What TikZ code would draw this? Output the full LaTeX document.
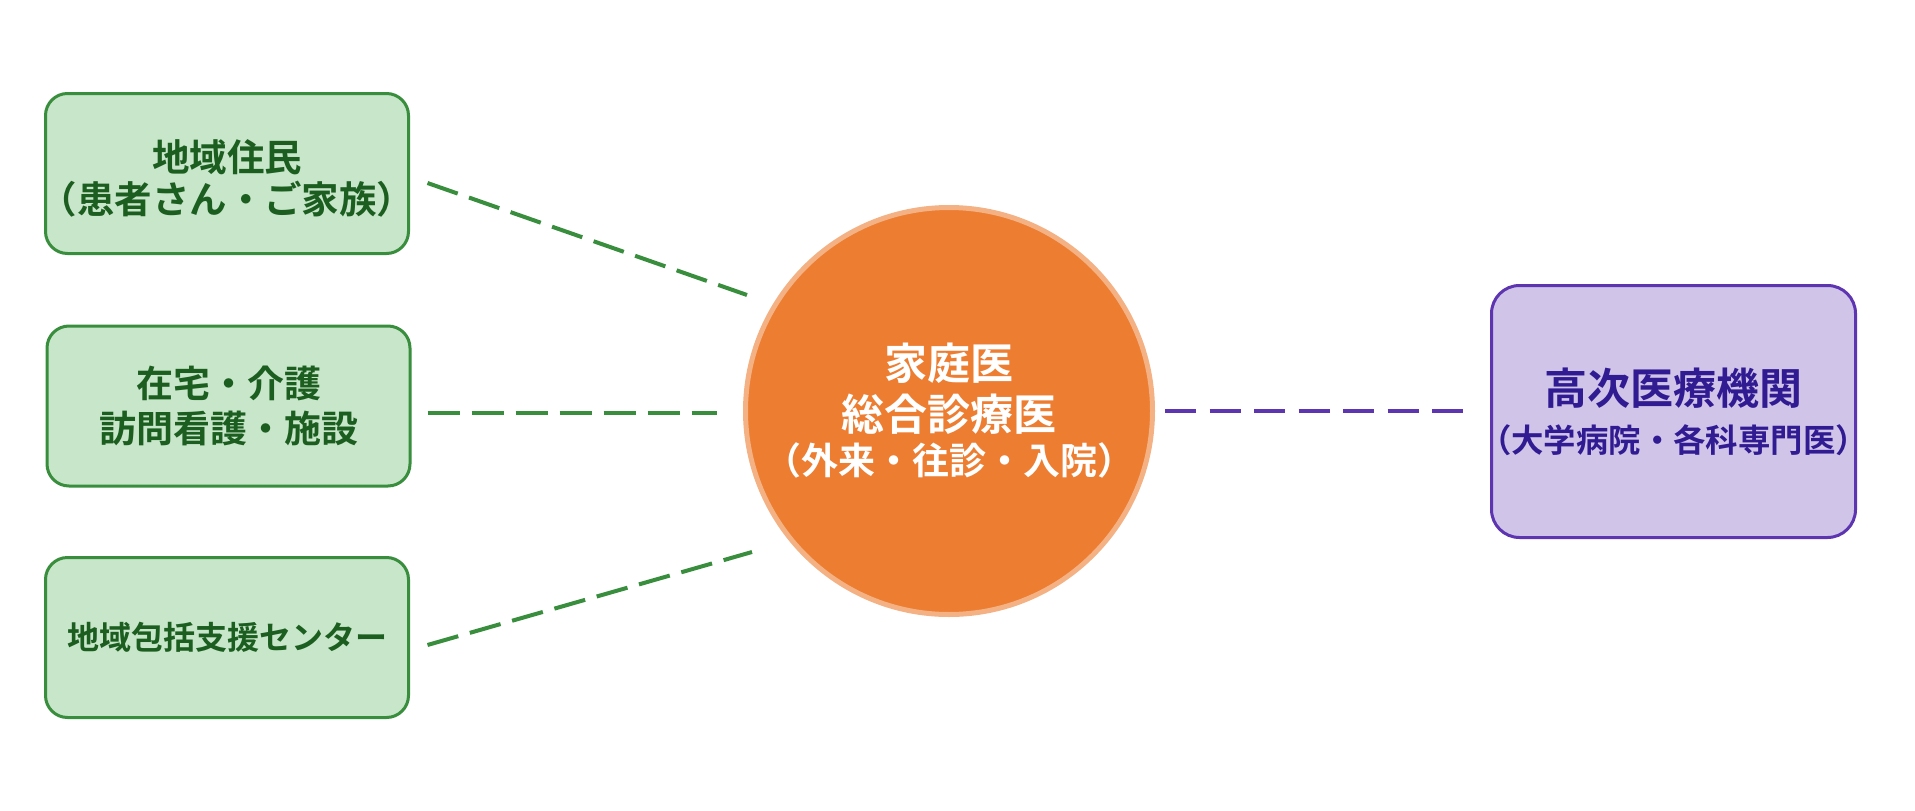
\documentclass[tikz,border=0pt]{standalone}
\usepackage{fontspec}
\setmainfont{Noto Sans CJK JP}[BoldFont={Noto Sans CJK JP Bold}]
\definecolor{gfill}{HTML}{C8E6C9}
\definecolor{gline}{HTML}{388E3C}
\definecolor{gtext}{HTML}{1B5E20}
\definecolor{ofill}{HTML}{ED7D31}
\definecolor{oline}{HTML}{F4B183}
\definecolor{pfill}{HTML}{D1C4E9}
\definecolor{pline}{HTML}{5E35B1}
\definecolor{ptext}{HTML}{311B92}
\newcommand{\lpar}{\kern-0.45em（}
\newcommand{\rpar}{）\kern-0.45em}
\tikzset{
  gbox/.style={draw=gline, fill=gfill, line width=3pt, rounded corners=22pt,
    minimum width=363pt, minimum height=160pt, inner sep=0pt, align=center,
    text=gtext},
  pbox/.style={draw=pline, fill=pfill, line width=3pt, rounded corners=28pt,
    minimum width=364pt, minimum height=252pt, inner sep=0pt, align=center,
    text=ptext},
  hub/.style={circle, draw=oline, fill=ofill, line width=5pt,
    minimum size=407pt, inner sep=0pt, align=center, text=white},
  glink/.style={draw=gline, line width=4pt, dash pattern=on 32pt off 12pt},
  plink/.style={draw=pline, line width=4pt, dash pattern=on 31pt off 13.5pt},
}
\begin{document}
\begin{tikzpicture}[x=1pt,y=-1pt]
\useasboundingbox (0,0) rectangle (1915,811);
\node[gbox, font={\bfseries\fontsize{37.5}{42}\selectfont}] (b1) at (227,173.5)
  {\rule{0pt}{42pt}地域住民\\\lpar 患者さん・ご家族\rpar};
\node[gbox, font={\bfseries\fontsize{37}{45}\selectfont}] (b2) at (228.5,406)
  {在宅・介護\\訪問看護・施設};
\node[gbox, font={\bfseries\fontsize{32}{38}\selectfont}] (b3) at (227,637.5)
  {地域包括支援センター};
\node[hub, font={\bfseries\fontsize{43}{50.5}\selectfont}] (c) at (949,411)
  {家庭医\\総合診療医\\[-6pt]{\fontsize{37}{50.5}\selectfont \lpar 外来・往診・入院\rpar}};
\node[pbox, font={\bfseries\fontsize{43}{48}\selectfont}] (r) at (1673.5,411.5)
  {高次医療機関\\{\fontsize{32.4}{48}\selectfont \lpar 大学病院・各科専門医\rpar}};
\coordinate (s1) at ([xshift=17.5pt,yshift=-9.5pt]b1.east);
\coordinate (e1) at ([xshift=-202pt,yshift=116pt]c.center);
\coordinate (s2) at ([xshift=16pt,yshift=-7pt]b2.east);
\coordinate (e2) at ([xshift=-232pt,yshift=-2pt]c.center);
\coordinate (s3) at ([xshift=17.5pt,yshift=-7.5pt]b3.east);
\coordinate (e3) at ([xshift=-197pt,yshift=-141pt]c.center);
\coordinate (s4) at ([xshift=216pt]c.center);
\coordinate (e4) at ([xshift=-26pt,yshift=0.5pt]r.west);
\draw[glink] (s1) -- (e1);
\draw[glink] (s2) -- (e2);
\draw[glink] (s3) -- (e3);
\draw[plink] (s4) -- (e4);
\end{tikzpicture}
\end{document}
